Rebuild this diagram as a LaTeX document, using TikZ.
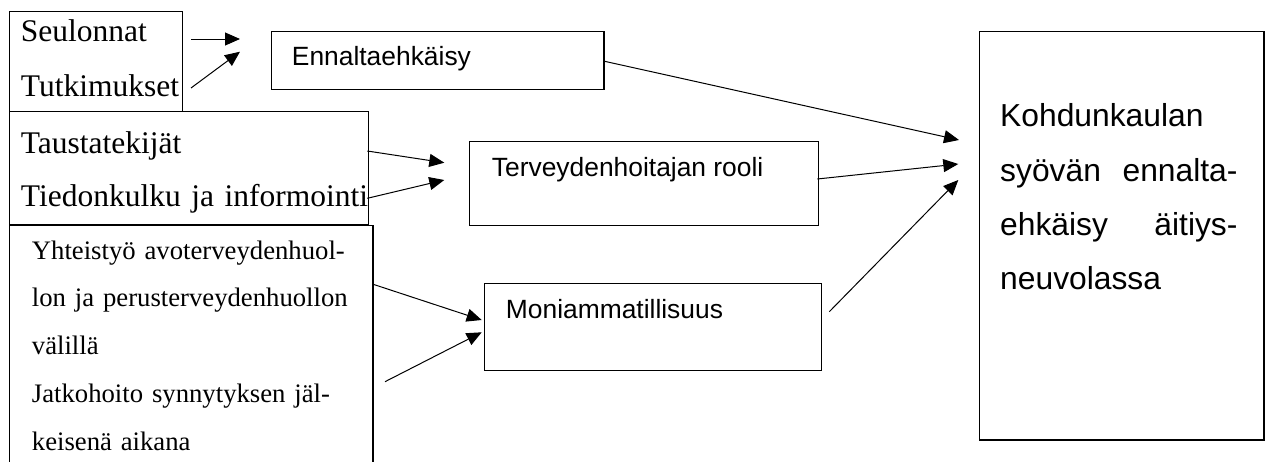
\documentclass[tikz,border=0pt]{standalone}
\usepackage{fontspec}
\setmainfont{Liberation Serif}
\setsansfont{Liberation Sans}
\usetikzlibrary{arrows.meta}
\begin{document}
\begin{tikzpicture}[x=1pt,y=-1pt,
  box/.style={draw, line width=1.2pt, inner sep=0pt, anchor=north west},
  txt/.style={inner sep=0pt, anchor=base west, align=left},
  conn/.style={line width=1pt, -{Triangle[length=15pt,width=13pt]}}]
\clip (0,0) rectangle (1269,461);
\fill[white] (0,0) rectangle (1269,461);

% boxes
\node[box, minimum width=172.7pt, minimum height=100pt] (b1) at (9,10.7) {};
\node[box, minimum width=358.7pt, minimum height=113pt] (b2) at (9,110.7) {};
\node[box, minimum width=363.3pt, minimum height=260pt] (b3) at (9,225) {};
\node[box, minimum width=332.6pt, minimum height=58pt] (e) at (270.7,31) {};
\node[box, minimum width=348.7pt, minimum height=84.3pt] (t) at (469,140.7) {};
\node[box, minimum width=336.7pt, minimum height=87.3pt] (m) at (484,282.7) {};
\node[box, minimum width=284.3pt, minimum height=408.6pt] (k) at (979,30.7) {};

% texts
\node[txt, text width=170pt, font=\fontsize{31.5}{55}\selectfont] (s1) at (20.7,41.7)
  {Seulonnat\\Tutkimukset};
\node[txt, text width=360pt, font=\fontsize{31.5}{53.4}\selectfont] (s2) at (20.7,153.3)
  {Taustatekijät\\Tiedonkulku ja informointi};
\node[txt, text width=340pt, font=\fontsize{26.7}{47.75}\selectfont] (s3) at (31.7,259)
  {Yhteistyö avoterveydenhuol-\\lon ja perusterveydenhuollon\\välillä\\Jatkohoito synnytyksen jäl-\\keisenä aikana};
\node[txt, font=\sffamily\fontsize{26.4}{30}\selectfont] (et) at (291.7,65.7) {Ennaltaehkäisy};
\node[txt, font=\sffamily\fontsize{26.4}{30}\selectfont] (tt) at (491.7,176.7) {Terveydenhoitajan rooli};
\node[txt, font=\sffamily\fontsize{26.4}{30}\selectfont] (mt) at (505.7,318.3) {Moniammatillisuus};
\node[txt, text width=237.3pt, font=\sffamily\fontsize{31.8}{54.4}\selectfont] (kt) at (1000,126.7)
  {Kohdunkaulan\\syövän\hfill ennalta-\\ehkäisy\hfill äitiys-\\neuvolassa};

% connector end points
\coordinate (a1s) at (191,39);     \coordinate (a1e) at (240,39);
\coordinate (a2s) at (191,88);     \coordinate (a2e) at (240,51.7);
\coordinate (a3s) at (367.3,151);  \coordinate (a3e) at (444.3,162.7);
\coordinate (a4s) at (367.3,198.3);\coordinate (a4e) at (444.3,180);
\coordinate (a5s) at (372.3,284);  \coordinate (a5e) at (481.7,320);
\coordinate (a6s) at (385,381.7);  \coordinate (a6e) at (481.7,332.3);
\coordinate (a7s) at (603.3,61);   \coordinate (a7e) at (959,140);
\coordinate (a8s) at (817.3,179);  \coordinate (a8e) at (958.3,164);
\coordinate (a9s) at (829.3,311.7);\coordinate (a9e) at (958.3,180);

\draw[conn] (a1s) -- (a1e);
\draw[conn] (a2s) -- (a2e);
\draw[conn] (a3s) -- (a3e);
\draw[conn] (a4s) -- (a4e);
\draw[conn] (a5s) -- (a5e);
\draw[conn] (a6s) -- (a6e);
\draw[conn] (a7s) -- (a7e);
\draw[conn] (a8s) -- (a8e);
\draw[conn] (a9s) -- (a9e);
\end{tikzpicture}
\end{document}
